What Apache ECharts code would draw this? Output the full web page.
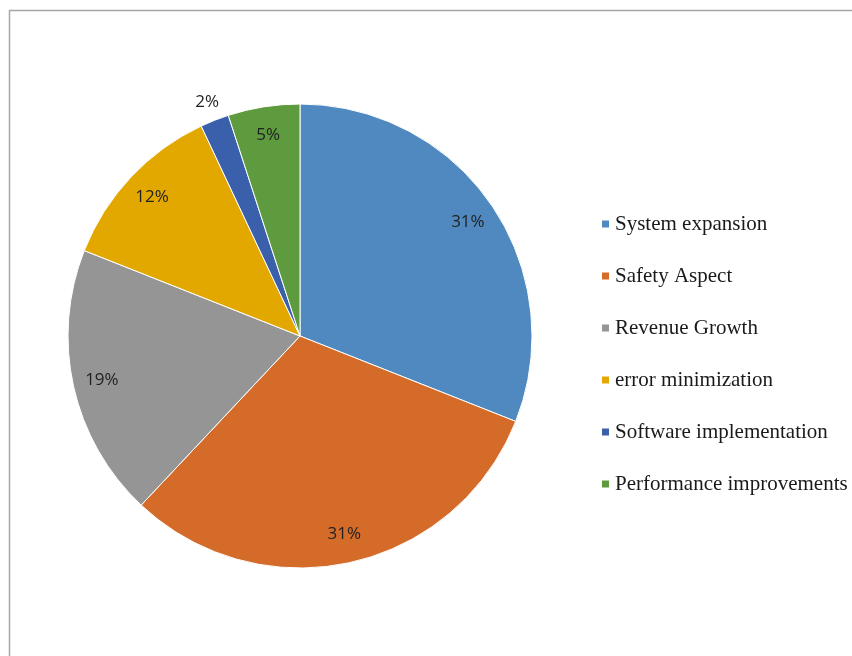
<!DOCTYPE html>
<html>
<head>
<meta charset="utf-8">
<style>
  html, body { margin: 0; padding: 0; background: #fff; }
  #chart { width: 852px; height: 656px; }
</style>
<script src="https://cdn.jsdelivr.net/npm/echarts@6/dist/echarts.min.js"></script>
</head>
<body>
<div id="chart"></div>
<script>
// Share of each improvement area (percent)
const categories = [
  'System expansion',
  'Safety Aspect',
  'Revenue Growth',
  'error minimization',
  'Software implementation',
  'Performance improvements'
];
const shares = [31, 31, 19, 12, 2, 5];
const sliceColors = ['#4f89bf', '#d46b29', '#959595', '#e2a800', '#3a5fab', '#5e9a3e'];

const chart = echarts.init(document.getElementById('chart'), null, { renderer: 'canvas' });

const center = [300, 336];
const outerR = 232;
const smallShare = 3; // slices below this get their label outside the rim

const pieData = categories.map((name, i) => ({
  name,
  value: shares[i],
  itemStyle: { color: sliceColors[i] }
}));

// Invisible rings that only carry the percentage labels
const ringData = (showSmall) => categories.map((name, i) => ({
  name,
  value: shares[i],
  label: { show: showSmall ? shares[i] < smallShare : shares[i] >= smallShare }
}));

const labelStyle = {
  position: 'inside',
  formatter: '{c}%',
  fontFamily: 'Open Sans',
  fontSize: 17,
  color: '#222222'
};

chart.setOption({
  animation: false,
  backgroundColor: '#ffffff',
  graphic: [{
    type: 'rect',
    shape: { x: 9.5, y: 10.5, width: 900, height: 700 },
    style: { fill: 'none', stroke: '#a6a6a6', lineWidth: 1.5 },
    silent: true
  }],
  legend: {
    orient: 'vertical',
    left: 595,
    top: 208,
    data: categories,
    icon: 'rect',
    itemWidth: 9,
    itemHeight: 9,
    itemGap: 30,
    selectedMode: false,
    textStyle: {
      fontFamily: 'Liberation Serif',
      fontSize: 21,
      color: '#1a1a1a',
      lineHeight: 22
    }
  },
  series: [
    {
      type: 'pie',
      center,
      radius: [0, outerR],
      startAngle: 90,
      clockwise: true,
      data: pieData,
      silent: true,
      itemStyle: { borderColor: '#ffffff', borderWidth: 1 },
      label: { show: false },
      labelLine: { show: false }
    },
    {
      type: 'pie',
      center,
      radius: [168, outerR],
      startAngle: 90,
      clockwise: true,
      data: ringData(false),
      silent: true,
      itemStyle: { color: 'rgba(0,0,0,0)', borderWidth: 0 },
      label: labelStyle,
      labelLine: { show: false }
    },
    {
      type: 'pie',
      center,
      radius: [236, 262],
      startAngle: 90,
      clockwise: true,
      data: ringData(true),
      silent: true,
      itemStyle: { color: 'rgba(0,0,0,0)', borderWidth: 0 },
      label: labelStyle,
      labelLine: { show: false }
    }
  ]
});
</script>
</body>
</html>
